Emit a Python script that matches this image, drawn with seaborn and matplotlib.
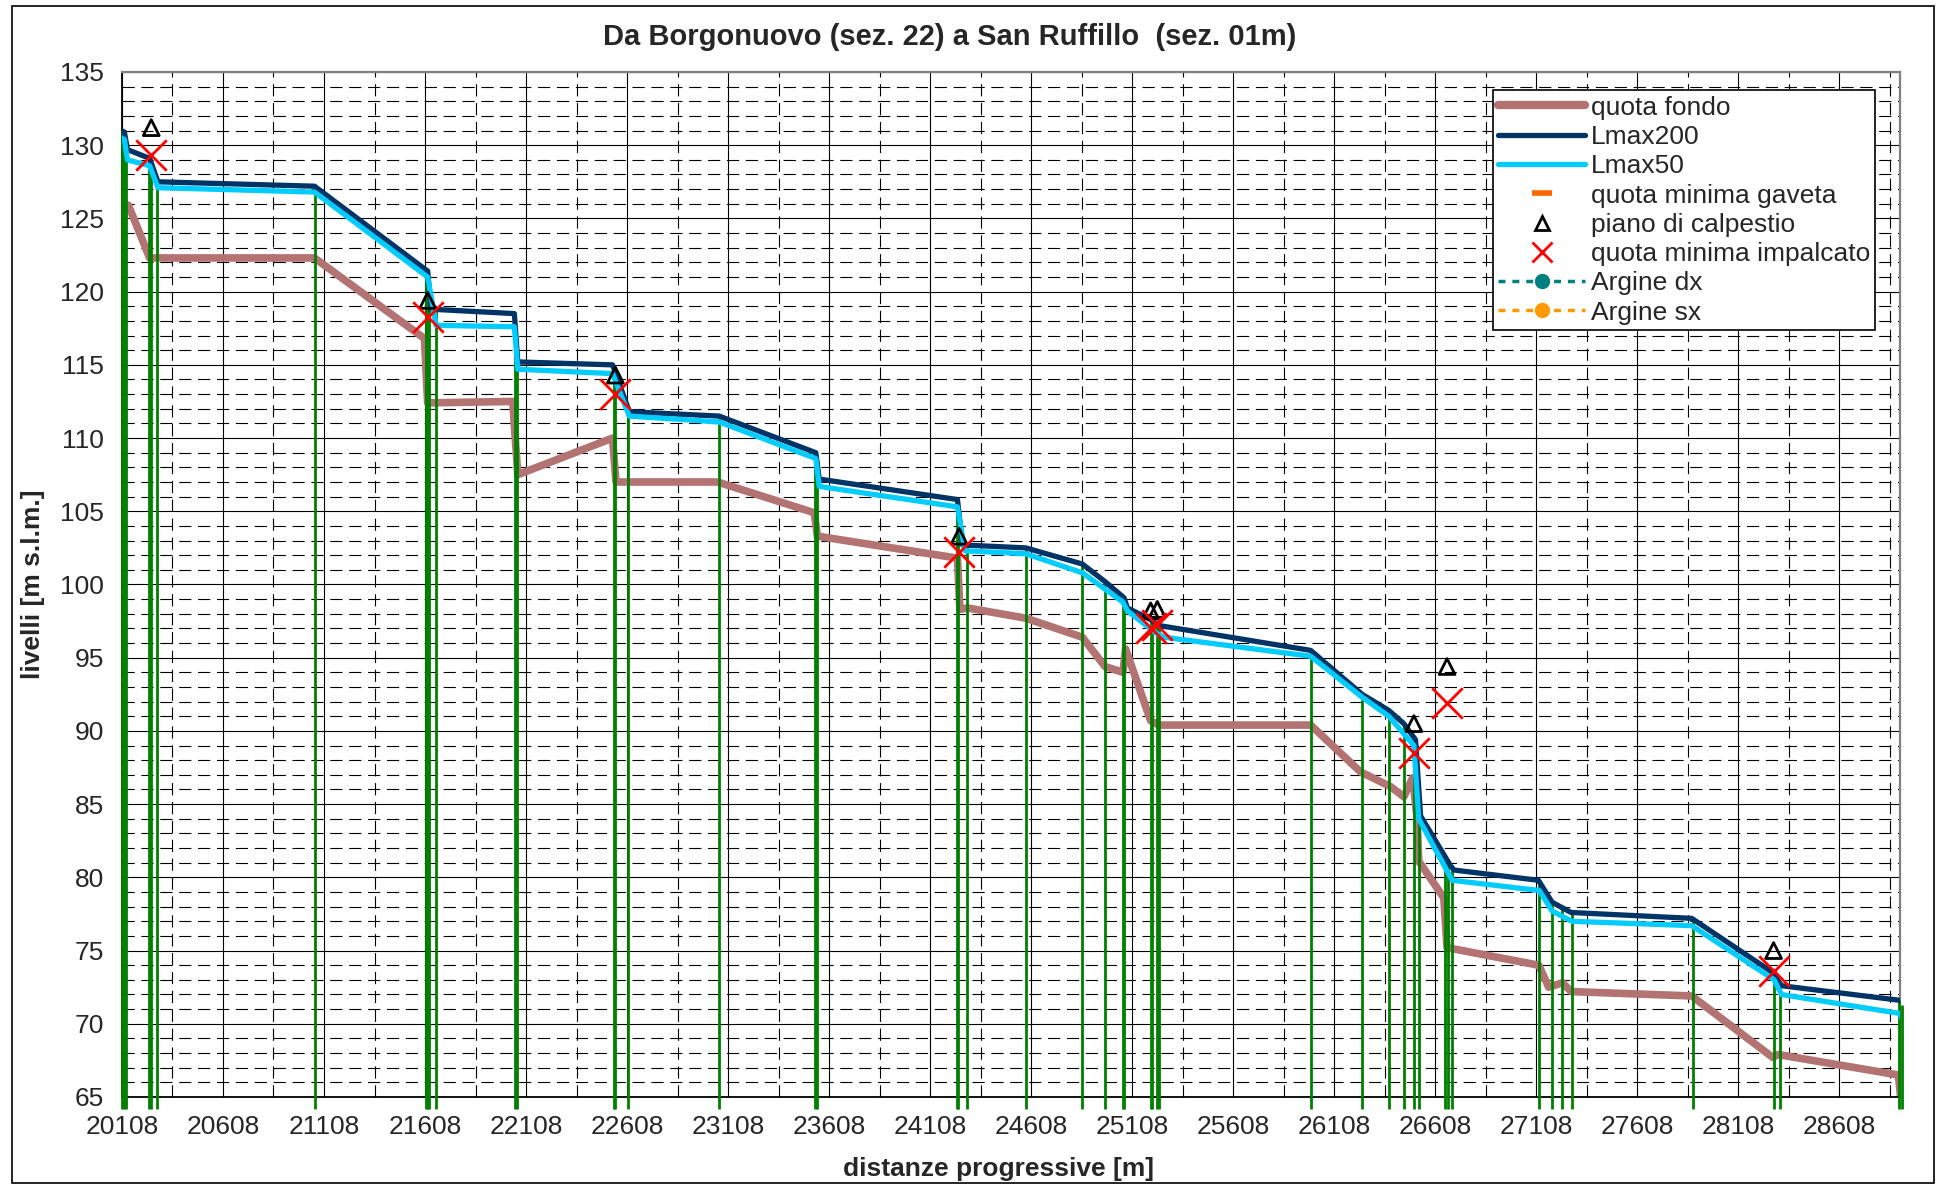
import matplotlib
matplotlib.use("Agg")
import matplotlib.pyplot as plt
from matplotlib.lines import Line2D
from matplotlib.patches import Rectangle
from matplotlib.ticker import FixedLocator
import seaborn as sns
import pandas as pd

sns.set_style("white")
plt.rcParams['font.family'] = ['Liberation Sans', 'DejaVu Sans']

# profilo longitudinale
x_l200 = [20090, 20120, 20135, 20245, 20286, 21061, 21621, 21638, 22050, 22067, 22536, 22619,
          23064, 23542, 23559, 24243, 24268, 24581, 24861, 24973, 25067, 25084, 25199, 25240,
          25991, 26246, 26378, 26452, 26510, 26535, 26683, 26700, 27118, 27186, 27280, 27877,
          28278, 28321, 28909, 28969]
y_l200 = [131.1, 130.9, 129.7, 129.1, 127.5, 127.2, 121.4, 118.8, 118.5, 115.2, 115.0, 111.8,
          111.5, 109.0, 107.2, 105.8, 102.7, 102.5, 101.4, 100.2, 99.1, 98.4, 97.6, 97.2,
          95.5, 92.5, 91.4, 90.5, 89.4, 84.2, 80.8, 80.5, 79.8, 78.3, 77.6, 77.2,
          73.5, 72.6, 71.6, 70.8]

x_l50 = [20090, 20120, 20135, 20245, 20286, 21061, 21621, 21663, 22050, 22067, 22536, 22619,
         23064, 23542, 23559, 24243, 24280, 24581, 24861, 25062, 25084, 25224, 25265, 25991,
         26246, 26378, 26502, 26526, 26691, 27123, 27186, 27284, 27877, 28285, 28321, 28909,
         28933, 28969]
y_l50 = [130.6, 130.4, 129.0, 128.6, 127.1, 126.8, 121.0, 117.7, 117.6, 114.7, 114.4, 111.5,
         111.1, 108.6, 106.7, 105.3, 102.3, 102.1, 100.8, 98.8, 98.2, 96.7, 96.4, 95.1,
         92.3, 91.0, 89.0, 84.0, 79.8, 79.1, 77.7, 77.0, 76.7, 73.0, 72.0, 70.7,
         69.8, 69.8]

x_fondo = [20090, 20140, 20245, 21061, 21605, 21621, 22042, 22067, 22536, 22553, 23056, 23534,
           23550, 24243, 24255, 24292, 24581, 24861, 24973, 25062, 25075, 25199, 25240, 25991,
           26238, 26386, 26452, 26496, 26518, 26526, 26650, 26666, 27120, 27169, 27238, 27280,
           27877, 28278, 28304, 28900, 28925]
y_fondo = [125.6, 125.9, 122.3, 122.3, 116.8, 112.4, 112.5, 107.5, 110.0, 107.0, 107.0, 104.9,
           103.3, 101.8, 98.3, 98.4, 97.7, 96.4, 94.4, 94.0, 95.6, 90.7, 90.4, 90.4,
           87.2, 86.2, 85.5, 86.8, 84.0, 81.1, 78.6, 75.2, 74.0, 72.5, 72.8, 72.2,
           71.9, 67.7, 67.9, 66.5, 63.0]

# sezioni (linee verdi) e quota di sommita'
x_sez = [20110, 20120, 20130, 20240, 20250, 20280, 21061, 21612, 21621, 21629, 21663, 22055,
         22062, 22545, 22550, 22611, 23061, 23538, 23546, 24240, 24248, 24292, 24581, 24861,
         24973, 25062, 25067, 25199, 25205, 25232, 25238, 25991, 26246, 26381, 26452, 26504,
         26526, 26655, 26672, 26692, 27123, 27183, 27234, 27284, 27881, 28282, 28312, 28905,
         28920]
top_sez = [131.0, 130.9, 130.0, 129.1, 128.7, 127.6, 127.2, 121.5, 121.3, 119.0, 118.8, 118.5,
           116.0, 115.0, 114.8, 112.0, 111.5, 109.0, 108.5, 105.8, 105.0, 102.7, 102.5, 101.4,
           100.2, 99.1, 99.0, 97.6, 97.5, 97.3, 97.2, 95.5, 92.5, 91.4, 90.5, 89.5,
           84.5, 81.2, 80.9, 80.6, 79.8, 78.4, 77.9, 77.6, 77.2, 73.5, 72.8, 71.6,
           71.3]

# ponti
x_ponti = [20253, 21621, 22550, 24251, 25199, 25232, 26502, 26666, 28282]
calpestio = [131.2, 119.4, 114.3, 103.3, 98.2, 98.3, 90.5, 94.4, 75.0]
impalcato = [129.3, 118.3, 113.0, 102.2, 97.0, 97.2, 88.5, 91.9, 73.6]

c_fondo = '#B47373'
c_200 = '#003366'
c_50 = '#00CCFF'
c_sez = '#008000'

fig = plt.figure(figsize=(19.42, 11.88), dpi=100)
ax = fig.add_axes([0.0628, 0.0766, 0.9156, 0.8628])

sns.lineplot(x=x_fondo, y=y_fondo, ax=ax, color=c_fondo, lw=5.5, sort=False, estimator=None, zorder=2)
ax.vlines(x_sez, 64.2, top_sez, colors=c_sez, lw=2.0, zorder=3, clip_on=False)
sns.lineplot(x=x_l200, y=y_l200, ax=ax, color=c_200, lw=3.8, sort=False, estimator=None, zorder=4)
sns.lineplot(x=x_l50, y=y_l50, ax=ax, color=c_50, lw=3.8, sort=False, estimator=None, zorder=5)
sns.scatterplot(x=x_ponti, y=calpestio, ax=ax, marker='^', s=130, facecolor='none',
                edgecolor='black', linewidth=2, zorder=6)
sns.scatterplot(x=x_ponti, y=impalcato, ax=ax, marker='x', s=480, color='red',
                linewidth=2, zorder=7)

ax.set_xlim(20108, 28908)
ax.set_ylim(65, 135)
ax.xaxis.set_major_locator(FixedLocator(list(range(20108, 28909, 500))))
ax.xaxis.set_minor_locator(FixedLocator(list(range(20358, 28909, 500))))
ax.yaxis.set_major_locator(FixedLocator(list(range(65, 136, 5))))
ax.yaxis.set_minor_locator(FixedLocator([v for v in range(66, 135) if v % 5]))
ax.set_axisbelow(True)
ax.grid(which='major', color='black', lw=0.8)
ax.grid(which='minor', color='black', lw=0.8, ls=(0, (11, 6)))
ax.tick_params(which='major', labelsize=19, length=6, width=1, direction='out', pad=7)
ax.tick_params(which='minor', length=0)
ax.set_xlabel('')
ax.set_ylabel('')
for s in ['left', 'bottom']:
    ax.spines[s].set_color('black')
    ax.spines[s].set_linewidth(1.3)
for s in ['top', 'right']:
    ax.spines[s].set_color('#808080')
    ax.spines[s].set_linewidth(1.6)

handles = [
    Line2D([], [], color=c_fondo, lw=6),
    Line2D([], [], color=c_200, lw=3.8),
    Line2D([], [], color=c_50, lw=3.8),
    Line2D([], [], ls='', marker='_', color='#FF6600', markersize=14, mew=4),
    Line2D([], [], ls='', marker='^', mfc='none', mec='black', mew=2, markersize=10),
    Line2D([], [], ls='', marker='x', color='red', mew=2, markersize=15),
    Line2D([], [], color='#008080', ls=(0, (2, 2)), lw=2.5, marker='o', markersize=10),
    Line2D([], [], color='#FF9900', ls=(0, (2, 2)), lw=2.5, marker='o', markersize=10),
]
labels = ['quota fondo', 'Lmax200', 'Lmax50', 'quota minima gaveta', 'piano di calpestio',
          'quota minima impalcato', 'Argine dx', 'Argine sx']
leg = ax.legend(handles, labels, loc='upper right', bbox_to_anchor=(0.986, 0.982),
                borderaxespad=0, fontsize=19, handlelength=3.3, handletextpad=0.2,
                labelspacing=0.2, borderpad=0.2, fancybox=False, framealpha=1)
leg.get_frame().set_edgecolor('black')
leg.get_frame().set_linewidth(1.2)

fig.text(0.489, 0.969, 'Da Borgonuovo (sez. 22) a San Ruffillo  (sez. 01m)',
         ha='center', va='center', fontsize=21, fontweight='bold')
fig.text(0.514, 0.016, 'distanze progressive [m]', ha='center', va='center',
         fontsize=19, fontweight='bold')
fig.text(0.017, 0.508, 'livelli [m s.l.m.]', ha='center', va='center', rotation=90,
         fontsize=19, fontweight='bold')

fig.patches.append(Rectangle((12 / 1942, 5 / 1188), 1922 / 1942, 1177 / 1188,
                             transform=fig.transFigure, fill=False, ec='black', lw=1.2))

fig.savefig('out.png', dpi=100)
